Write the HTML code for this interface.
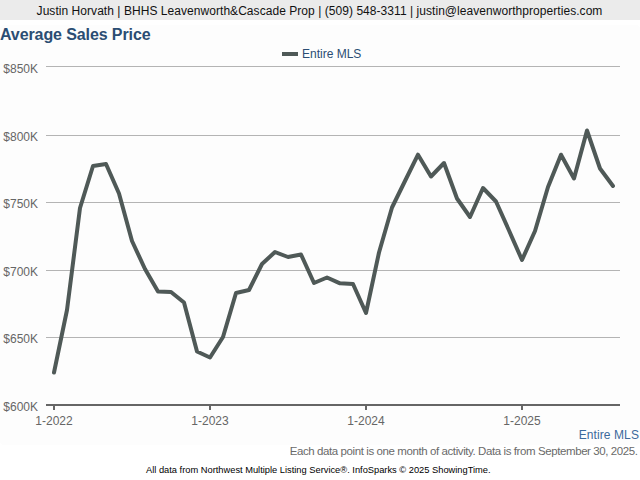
<!DOCTYPE html>
<html><head><meta charset="utf-8"><style>
html,body{margin:0;padding:0;width:640px;height:480px;overflow:hidden;background:#fff}
svg{position:absolute;left:0;top:0;display:block}
text{font-family:"Liberation Sans",sans-serif}
.ax{font-size:12px;fill:#666}
</style></head><body>
<svg width="640" height="480" viewBox="0 0 640 480">
<rect x="0" y="0" width="640" height="480" fill="#fff"/>
<rect x="0" y="25" width="640" height="420" rx="4" fill="#fdfdfd"/>
<rect x="0" y="0" width="640" height="20" fill="#ebebeb"/>
<text x="319.5" y="15" text-anchor="middle" style="font-size:12px;fill:#111;letter-spacing:0.05px">Justin Horvath | BHHS Leavenworth&amp;Cascade Prop | (509) 548-3311 | justin@leavenworthproperties.com</text>
<text x="0" y="39.5" style="font-size:16px;font-weight:bold;fill:#2b4d73;letter-spacing:-0.1px">Average Sales Price</text>
<rect x="282" y="52" width="16" height="4" fill="#4f5957"/>
<text x="302" y="57.5" style="font-size:12px;fill:#2b4d73">Entire MLS</text>
<rect x="46" y="66" width="574" height="1" fill="#b4b4b4"/><rect x="46" y="135" width="574" height="1" fill="#b4b4b4"/><rect x="46" y="202" width="574" height="1" fill="#b4b4b4"/><rect x="46" y="270" width="574" height="1" fill="#b4b4b4"/><rect x="46" y="337" width="574" height="1" fill="#b4b4b4"/>
<rect x="46" y="404" width="574" height="2" fill="#666"/>
<rect x="53" y="406" width="2" height="4" fill="#666"/><rect x="209" y="406" width="2" height="4" fill="#666"/><rect x="365" y="406" width="2" height="4" fill="#666"/><rect x="521" y="406" width="2" height="4" fill="#666"/>
<text x="38" y="73" text-anchor="end" class="ax">$850K</text><text x="38" y="141" text-anchor="end" class="ax">$800K</text><text x="38" y="208" text-anchor="end" class="ax">$750K</text><text x="38" y="276" text-anchor="end" class="ax">$700K</text><text x="38" y="343" text-anchor="end" class="ax">$650K</text><text x="38" y="411" text-anchor="end" class="ax">$600K</text>
<text x="54" y="425" text-anchor="middle" class="ax">1-2022</text><text x="210" y="425" text-anchor="middle" class="ax">1-2023</text><text x="366" y="425" text-anchor="middle" class="ax">1-2024</text><text x="522" y="425" text-anchor="middle" class="ax">1-2025</text>
<polyline points="54,372.5 67,310 80,208 93,166 106,164 119,193.5 132,241 145,269 158,291.5 171,292 184,302.5 197,351.5 210,357.5 223,337 236,293 249,290 262,264 275,252 288,257 301,254.5 314,283 327,277.5 340,283.3 353,284 366,313 379,252.5 392,207.5 405,181 418,154.7 431,176.5 444,163 457,198.5 470,217 483,188 496,201.5 509,230.5 522,260 535,231 548,187 561,154.7 574,178.5 587,130.5 600,168.5 613,186" fill="none" stroke="#4f5957" stroke-width="4" stroke-linejoin="round" stroke-linecap="round"/>
<text x="639" y="439" text-anchor="end" style="font-size:12px;fill:#3c6a9c;letter-spacing:0.1px">Entire MLS</text>
<text x="637.6" y="455" text-anchor="end" style="font-size:11.5px;fill:#6a6a6a;letter-spacing:-0.41px">Each data point is one month of activity. Data is from September 30, 2025.</text>
<text x="146" y="473" style="font-size:9.3px;fill:#000">All data from Northwest Multiple Listing Service®. InfoSparks © 2025 ShowingTime.</text>
</svg>
</body></html>
